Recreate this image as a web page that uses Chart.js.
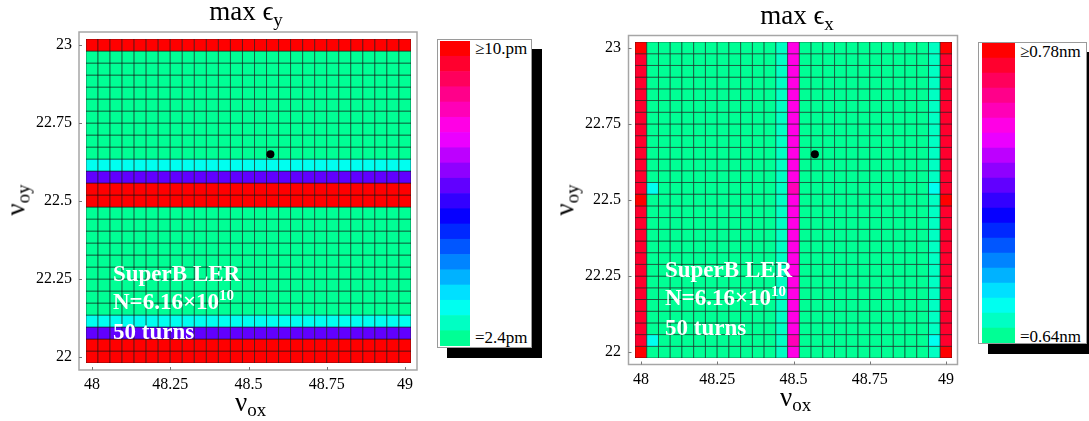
<!DOCTYPE html>
<html>
<head>
<meta charset="utf-8">
<script src="https://cdn.jsdelivr.net/npm/chart.js@4.4.0/dist/chart.umd.min.js"></script>
<style>
  html, body { margin: 0; padding: 0; background: #fff; }
  body { width: 1089px; height: 421px; position: relative; overflow: hidden;
         font-family: "Liberation Serif", "Times New Roman", "DejaVu Serif", serif; }
  canvas { position: absolute; }
  .txt { position: absolute; white-space: nowrap; color: #000; }
  .title { font-size: 27px; line-height: 27px; transform: translateX(-50%); }
  .title .s { font-size: 19px; position: relative; top: 6px; }
  .axt { font-size: 27px; line-height: 27px; }
  .axt .s { font-size: 19px; position: relative; top: 5px; }
  .roty { transform: translate(-50%, -50%) rotate(-90deg); }
  .note { font-size: 23px; line-height: 28px; font-weight: bold; color: #fff; }
  .note .sup { font-size: 15px; position: relative; top: -9px; }
  .cbl { font-size: 17px; line-height: 17px; }
  .cbframe { position: absolute; box-sizing: border-box; border: 1px solid #9a9a9a;
             background: #fff; box-shadow: 10px 10px 0 #000; }
</style>
</head>
<body>

<div class="cbframe" style="left:437px; top:39px; width:95px; height:309px;"></div>
<div class="cbframe" style="left:978px; top:42px; width:109px; height:302px;"></div>

<canvas id="mapY" width="430" height="421" style="left:0; top:0;"></canvas>
<canvas id="mapX" width="415" height="421" style="left:560px; top:0;"></canvas>
<canvas id="barY" width="30" height="305" style="left:440px; top:41px;"></canvas>
<canvas id="barX" width="33" height="300" style="left:982px; top:43px;"></canvas>

<div class="txt title" style="left:246px; top:-2px;">max ϵ<span class="s">y</span></div>
<div class="txt title" style="left:797px; top:2px;">max ϵ<span class="s">x</span></div>

<div class="txt axt" style="left:235px; top:389px;">ν<span class="s">ox</span></div>
<div class="txt axt" style="left:780px; top:384px;">ν<span class="s">ox</span></div>
<div class="txt axt roty" style="left:17px; top:200px;">ν<span class="s">oy</span></div>
<div class="txt axt roty" style="left:566px; top:200px;">ν<span class="s">oy</span></div>

<div class="txt note" style="left:113px; top:260px;">SuperB LER<br>N=6.16×10<span class="sup">10</span><br>50 turns</div>
<div class="txt note" style="left:665px; top:256px;">SuperB LER<br>N=6.16×10<span class="sup">10</span><br>50 turns</div>

<div class="txt cbl" style="left:475px; top:40px;">≥10.pm</div>
<div class="txt cbl" style="left:475px; top:329px;">=2.4pm</div>
<div class="txt cbl" style="left:1020px; top:43px;">≥0.78nm</div>
<div class="txt cbl" style="left:1020px; top:328px;">=0.64nm</div>

<script>
// scan grid (27 x 27 tunes)
const nuOx = [48, 48.0385, 48.0769, 48.1154, 48.1538, 48.1923, 48.2308, 48.2692, 48.3077,
  48.3462, 48.3846, 48.4231, 48.4615, 48.5, 48.5385, 48.5769, 48.6154, 48.6538, 48.6923,
  48.7308, 48.7692, 48.8077, 48.8462, 48.8846, 48.9231, 48.9615, 49];
const nuOy = [22, 22.0385, 22.0769, 22.1154, 22.1538, 22.1923, 22.2308, 22.2692, 22.3077,
  22.3462, 22.3846, 22.4231, 22.4615, 22.5, 22.5385, 22.5769, 22.6154, 22.6538, 22.6923,
  22.7308, 22.7692, 22.8077, 22.8462, 22.8846, 22.9231, 22.9615, 23];
const xTicks = [48, 48.25, 48.5, 48.75, 49];
const yTicks = [22, 22.25, 22.5, 22.75, 23];

// max eps_y [pm] per nu_oy row (bottom -> top), same for every nu_ox
const epsYRows = [12, 12, 6.4, 3.2, 2.4, 2.4, 2.4, 2.4, 2.4, 2.4, 2.4, 2.4, 2.4,
  12, 12, 6.4, 3.2, 2.4, 2.4, 2.4, 2.4, 2.4, 2.4, 2.4, 2.4, 2.4, 12];
const epsYRange = [2.4, 10];

// max eps_x [nm] per nu_ox column (left -> right), plus single cells [i, j, value]
const epsXCols = [0.773, 0.64, 0.64, 0.64, 0.64, 0.64, 0.64, 0.64, 0.64, 0.64, 0.64, 0.64,
  0.647, 0.743, 0.64, 0.64, 0.64, 0.64, 0.64, 0.64, 0.64, 0.64, 0.64, 0.64, 0.64, 0.647, 0.773];
const epsXCells = [
  [0, 0, 0.8], [0, 13, 0.8], [0, 26, 0.8], [26, 0, 0.8], [26, 13, 0.8], [26, 26, 0.8],
  [1, 1, 0.655], [1, 14, 0.655], [25, 1, 0.655], [25, 14, 0.655],
  [13, 1, 0.75], [13, 14, 0.75]
];
const epsXRange = [0.64, 0.78];

const workPoint = [48.57, 22.65];
const nLevels = 20;

function hsv(h) {
  const f = (n) => {
    const k = (n + h / 60) % 6;
    return Math.round(255 * (1 - Math.max(0, Math.min(k, 4 - k, 1))));
  };
  return `rgb(${f(5)},${f(3)},${f(1)})`;
}
// spring green -> cyan -> blue -> magenta -> red
function levelColor(k) {
  return hsv((155 + k * 205 / (nLevels - 1)) % 360);
}
function levelOf(v, range) {
  const k = Math.round((v - range[0]) / (range[1] - range[0]) * (nLevels - 1));
  return Math.max(0, Math.min(nLevels - 1, k));
}
function cellPx(chart) {
  const s = chart.scales.x;
  return Math.abs(s.getPixelForValue(nuOx[1]) - s.getPixelForValue(nuOx[0]));
}

const framePlugin = {
  id: 'frame',
  beforeDatasetsDraw(chart, args, opts) {
    const { ctx, chartArea: a, scales } = chart;
    const g = opts.gap;
    const L = a.left - g, R = a.right + g - 1, T = a.top - g, B = a.bottom + g;
    ctx.save();
    ctx.strokeStyle = '#a6a6a6';
    ctx.lineWidth = 1.5;
    ctx.strokeRect(L, T, R - L, B - T);
    ctx.strokeStyle = '#777';
    ctx.lineWidth = 1;
    ctx.beginPath();
    scales.x.ticks.forEach(t => {
      const x = Math.round(scales.x.getPixelForValue(t.value)) + 0.5;
      ctx.moveTo(x, B); ctx.lineTo(x, B - 3);
    });
    scales.y.ticks.forEach(t => {
      const y = Math.round(scales.y.getPixelForValue(t.value)) + 0.5;
      ctx.moveTo(L, y); ctx.lineTo(L + 3, y);
    });
    ctx.stroke();
    ctx.restore();
  }
};

function heatmap(id, points, range, geom) {
  const half = (nuOx[1] - nuOx[0]) / 2;
  const tickFont = { family: "'Liberation Serif', 'Times New Roman', serif", size: 16 };
  return new Chart(document.getElementById(id), {
    type: 'scatter',
    data: {
      datasets: [
        {
          data: [{ x: workPoint[0], y: workPoint[1] }],
          pointRadius: 4,
          pointBackgroundColor: '#000',
          pointBorderWidth: 0
        },
        {
          data: points,
          pointStyle: 'rect',
          pointRadius: ctx => cellPx(ctx.chart) / Math.SQRT2,
          pointHoverRadius: ctx => cellPx(ctx.chart) / Math.SQRT2,
          pointBackgroundColor: ctx => ctx.raw ? levelColor(levelOf(ctx.raw.v, range)) : '#0f8',
          pointBorderColor: 'rgba(20,20,20,0.55)',
          pointBorderWidth: 1
        }
      ]
    },
    options: {
      responsive: false,
      animation: false,
      devicePixelRatio: 1,
      layout: { padding: { top: geom.top, right: geom.right, left: 0, bottom: 0 } },
      plugins: { legend: { display: false }, tooltip: { enabled: false }, frame: { gap: geom.gap } },
      scales: {
        x: {
          type: 'linear',
          min: nuOx[0] - half,
          max: nuOx[nuOx.length - 1] + half,
          afterBuildTicks: s => { s.ticks = xTicks.map(v => ({ value: v })); },
          afterFit: s => { s.height = geom.xh; },
          grid: { drawOnChartArea: false, tickLength: 7, tickColor: 'rgba(0,0,0,0)' },
          border: { display: false },
          ticks: { color: '#000', font: tickFont, padding: 5, maxRotation: 0, callback: v => String(v) }
        },
        y: {
          type: 'linear',
          min: nuOy[0] - half,
          max: nuOy[nuOy.length - 1] + half,
          afterBuildTicks: s => { s.ticks = yTicks.map(v => ({ value: v })); },
          afterFit: s => { s.width = geom.yw; },
          grid: { drawOnChartArea: false, tickLength: 7, tickColor: 'rgba(0,0,0,0)' },
          border: { display: false },
          ticks: { color: '#000', font: tickFont, padding: 7, callback: v => String(v) }
        }
      }
    },
    plugins: [framePlugin]
  });
}

function colorBar(id) {
  const datasets = [];
  for (let k = 0; k < nLevels; k++) {
    datasets.push({ data: [1], backgroundColor: levelColor(k), borderWidth: 0,
      barPercentage: 1, categoryPercentage: 1 });
  }
  return new Chart(document.getElementById(id), {
    type: 'bar',
    data: { labels: [''], datasets },
    options: {
      responsive: false,
      animation: false,
      devicePixelRatio: 1,
      layout: { padding: 0 },
      plugins: { legend: { display: false }, tooltip: { enabled: false } },
      scales: {
        x: { display: false, stacked: true },
        y: { display: false, stacked: true, min: 0, max: nLevels }
      }
    }
  });
}

const ptsY = [];
nuOy.forEach((y, j) => nuOx.forEach((x, i) => ptsY.push({ x, y, v: epsYRows[j] })));

const ptsX = [];
nuOy.forEach((y, j) => nuOx.forEach((x, i) => {
  const hit = epsXCells.find(c => c[0] === i && c[1] === j);
  ptsX.push({ x, y, v: hit ? hit[2] : epsXCols[i] });
}));

heatmap('mapY', ptsY, epsYRange, { top: 39, right: 19, yw: 86, xh: 58, gap: 7 });
heatmap('mapX', ptsX, epsXRange, { top: 42, right: 23, yw: 75, xh: 63, gap: 6.5 });
colorBar('barY');
colorBar('barX');
</script>
</body>
</html>
